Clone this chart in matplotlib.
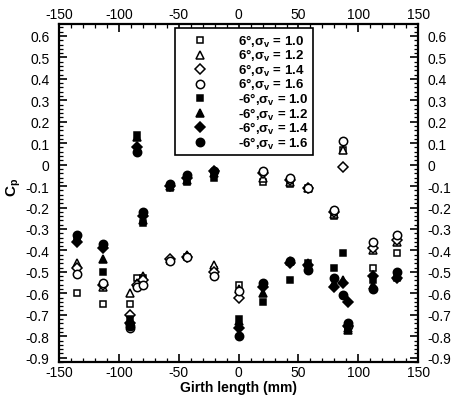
import matplotlib.pyplot as plt
from matplotlib.ticker import MultipleLocator

plt.rcParams['font.family'] = ['Liberation Sans', 'DejaVu Sans']
plt.rcParams['axes.unicode_minus'] = False
plt.rcParams['mathtext.fontset'] = 'custom'
plt.rcParams['mathtext.rm'] = 'Liberation Sans:bold'
plt.rcParams['mathtext.it'] = 'Liberation Sans:bold'
plt.rcParams['mathtext.bf'] = 'Liberation Sans:bold'

# girth positions (mm)
girth = [-135, -113, -91, -85, -80, -57, -43, -21, 0, 20, 43, 58, 80, 87, 91, 112, 132]

# +6 deg (open symbols)
p6_10 = [-0.60, -0.65, -0.65, -0.53, -0.53, -0.45, -0.43, -0.49, -0.56, -0.08, -0.09, -0.11, -0.24, 0.07, -0.76, -0.48, -0.41]
p6_12 = [-0.46, -0.57, -0.60, -0.55, -0.52, -0.44, -0.42, -0.47, -0.58, -0.06, -0.08, -0.11, -0.23, 0.07, -0.76, -0.40, -0.36]
p6_14 = [-0.48, -0.56, -0.70, -0.56, -0.54, -0.44, -0.43, -0.50, -0.62, -0.04, -0.07, -0.11, -0.22, -0.01, -0.75, -0.39, -0.35]
p6_16 = [-0.51, -0.55, -0.76, -0.57, -0.56, -0.45, -0.43, -0.52, -0.59, -0.03, -0.06, -0.11, -0.21, 0.11, -0.75, -0.36, -0.33]

# -6 deg (filled symbols)
m6_10 = [-0.35, -0.50, -0.72, 0.14, -0.27, -0.11, -0.08, -0.06, -0.72, -0.64, -0.54, -0.46, -0.48, -0.41, -0.76, -0.54, -0.53]
m6_12 = [-0.34, -0.44, -0.73, 0.13, -0.26, -0.10, -0.07, -0.04, -0.73, -0.60, -0.45, -0.46, -0.55, -0.54, -0.77, -0.56, -0.52]
m6_14 = [-0.36, -0.39, -0.74, 0.08, -0.24, -0.10, -0.06, -0.03, -0.76, -0.57, -0.46, -0.47, -0.57, -0.55, -0.64, -0.52, -0.53]
m6_16 = [-0.33, -0.37, -0.75, 0.06, -0.22, -0.09, -0.05, -0.03, -0.80, -0.55, -0.45, -0.49, -0.53, -0.61, -0.74, -0.58, -0.50]

labels = [r'6°,$\sigma_v$ = 1.0', r'6°,$\sigma_v$ = 1.2', r'6°,$\sigma_v$ = 1.4', r'6°,$\sigma_v$ = 1.6',
          r'-6°,$\sigma_v$ = 1.0', r'-6°,$\sigma_v$ = 1.2', r'-6°,$\sigma_v$ = 1.4', r'-6°,$\sigma_v$ = 1.6']
series = [p6_10, p6_12, p6_14, p6_16, m6_10, m6_12, m6_14, m6_16]
markers = ['s', '^', 'D', 'o', 's', '^', 'D', 'o']
sizes = [5, 5.5, 4.6, 6, 5, 5.5, 4.6, 6]

fig = plt.figure(figsize=(4.55, 4.06), dpi=100)
ax = fig.add_axes([0.130, 0.106, 0.789, 0.832])

for i in range(8):
    filled = i >= 4
    ax.plot(girth, series[i], linestyle='none', marker=markers[i], ms=sizes[i],
            mfc='black' if filled else 'white', mec='black', mew=1.1,
            label=labels[i], zorder=3 + i)

ax.set_xlim(-150, 150)
ax.set_ylim(-0.92, 0.655)
ax.xaxis.set_major_locator(MultipleLocator(50))
ax.xaxis.set_minor_locator(MultipleLocator(10))
ax.yaxis.set_major_locator(MultipleLocator(0.1))
ax.yaxis.set_minor_locator(MultipleLocator(0.02))
ax.tick_params(which='both', direction='in', top=True, right=True,
               labeltop=True, labelright=True, labelsize=10, width=1.2)
ax.tick_params(axis='x', which='both', pad=2)
ax.tick_params(axis='y', which='both', pad=7)
ax.tick_params(which='major', length=6)
ax.tick_params(which='minor', length=3, width=0.9)
ax.set_yticks([round(-0.9 + 0.1 * k, 1) for k in range(16)])
ax.set_yticklabels([('%g' % round(-0.9 + 0.1 * k, 1)) for k in range(16)])
for s in ax.spines.values():
    s.set_linewidth(1.6)

ax.set_xlabel('Girth length (mm)', fontsize=10, fontweight='bold', labelpad=1)
ax.set_ylabel(r'$C_p$', fontsize=11)
ax.yaxis.set_label_coords(-0.10, 0.52)

leg = ax.legend(loc='upper left', bbox_to_anchor=(0.323, 0.988),
                prop={'weight': 'bold', 'size': 9.5}, frameon=True, fancybox=False,
                edgecolor='black', labelspacing=-0.12, handletextpad=1.4,
                borderpad=0.35, handlelength=3.0, borderaxespad=0, framealpha=1)
leg.get_frame().set_linewidth(1.2)
leg.set_zorder(20)

fig.savefig('out.png', dpi=100)
